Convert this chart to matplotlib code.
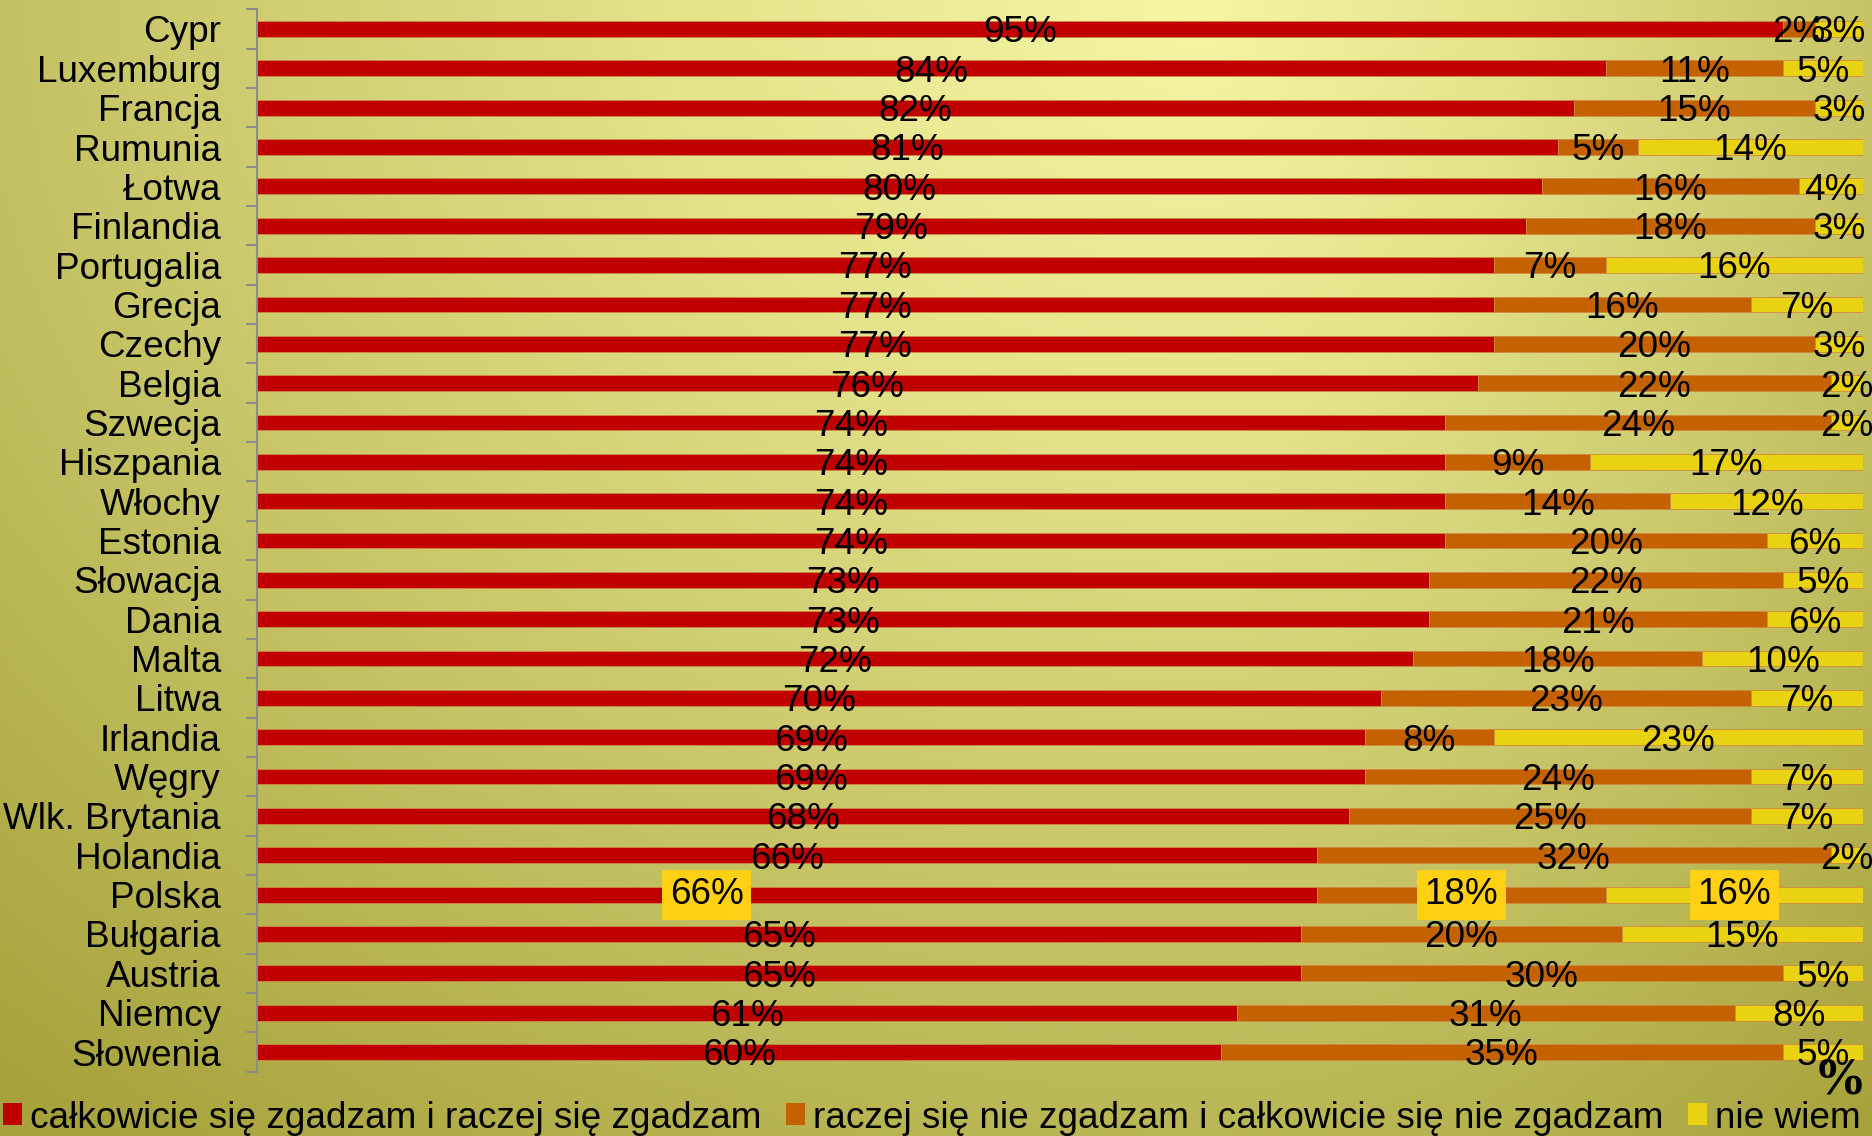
import numpy as np
import matplotlib
matplotlib.use("Agg")
import matplotlib.pyplot as plt
from matplotlib.patches import Patch

countries = ["Cypr", "Luxemburg", "Francja", "Rumunia", "Łotwa", "Finlandia", "Portugalia",
             "Grecja", "Czechy", "Belgia", "Szwecja", "Hiszpania", "Włochy", "Estonia",
             "Słowacja", "Dania", "Malta", "Litwa", "Irlandia", "Węgry", "Wlk. Brytania",
             "Holandia", "Polska", "Bułgaria", "Austria", "Niemcy", "Słowenia"]
agree = [95, 84, 82, 81, 80, 79, 77, 77, 77, 76, 74, 74, 74, 74, 73, 73, 72, 70, 69, 69, 68, 66, 66, 65, 65, 61, 60]
disagree = [2, 11, 15, 5, 16, 18, 7, 16, 20, 22, 24, 9, 14, 20, 22, 21, 18, 23, 8, 24, 25, 32, 18, 20, 30, 31, 35]
dont_know = [3, 5, 3, 14, 4, 3, 16, 7, 3, 2, 2, 17, 12, 6, 5, 6, 10, 7, 23, 7, 7, 2, 16, 15, 5, 8, 5]
legend_labels = ["całkowicie się zgadzam i raczej się zgadzam",
                 "raczej się nie zgadzam i całkowicie się nie zgadzam",
                 "nie wiem"]
highlight = "Polska"

colors = ["#c00000", "#c46200", "#e8d212"]
FS = 26.6
plt.rcParams['font.family'] = ['Liberation Sans', 'DejaVu Sans']

fig = plt.figure(figsize=(18.72, 11.36), dpi=100)

# background gradient
bg = fig.add_axes([0, 0, 1, 1], zorder=-10)
H, W = 300, 500
xx, yy = np.meshgrid(np.linspace(0, 1, W), np.linspace(0, 1, H))
cx = 0.64
dx = np.where(xx < cx, (xx - cx) / 0.64, (xx - cx) / 0.38)
dy = yy / 0.85
r = np.sqrt(dx ** 2 + dy ** 2)
stops = [0.0, 0.45, 1.0, 1.5]
cols = np.array([[0xf5, 0xf5, 0xa4], [0xe4, 0xe2, 0x8a], [0xc3, 0xc1, 0x62], [0xa7, 0xa2, 0x3b]]) / 255
img = np.dstack([np.interp(r, stops, cols[:, k]) for k in range(3)])
bg.imshow(img, aspect='auto', extent=[0, 1, 0, 1], origin='upper')
bg.axis('off')

ax = fig.add_axes([257 / 1872, 64.3 / 1136, (1863 - 257) / 1872, (1126.7 - 64.3) / 1136])
ax.patch.set_alpha(0)

y = np.arange(len(countries))
a = np.array(agree)
d = np.array(disagree)
k = np.array(dont_know)
h = 0.40
series = [(a, np.zeros_like(a)), (d, a), (k, a + d)]
for (vals, left), c in zip(series, colors):
    ax.barh(y, vals, left=left, height=h, color=c, edgecolor='#d08a40', linewidth=0.6)

for i, name in enumerate(countries):
    for j, ((vals, left), c) in enumerate(zip(series, colors)):
        v = vals[i]
        xc = left[i] + v / 2
        kw = {}
        yo = 0.1
        if name == highlight:
            kw['bbox'] = dict(boxstyle='square,pad=0.2', facecolor='#ffd014', edgecolor='none')
            yo = 0.0
            if j == 0:
                xc = 28
        ax.text(xc, i + yo, f"{v}%", ha='center', va='center', fontsize=FS, color='black', **kw)

ax.set_xlim(0, 100)
ax.set_ylim(len(countries) - 0.5, -0.5)
ax.set_yticks(y)
ax.set_yticklabels(countries, fontsize=FS)
ax.set_yticks(np.arange(len(countries) + 1) - 0.5, minor=True)
ax.tick_params(axis='y', which='major', length=0, pad=26)
ax.tick_params(axis='y', which='minor', length=8, width=1.5, color='#8c8c8c')
ax.set_xticks([])
for s in ['top', 'right', 'bottom']:
    ax.spines[s].set_visible(False)
ax.spines['left'].set_color('#8c8c8c')
ax.spines['left'].set_linewidth(1.5)

handles = [Patch(facecolor=c, edgecolor='none') for c in colors]
fig.legend(handles, legend_labels, loc='center left', bbox_to_anchor=(0.0016, 0.0158),
           ncol=3, frameon=False, fontsize=FS, handlelength=0.51, handleheight=0.54,
           handletextpad=0.22, columnspacing=0.67, borderpad=0, borderaxespad=0)

fig.text(0.983, 0.049, "%", fontsize=38, fontweight='bold', family='Liberation Serif',
         ha='center', va='center')

fig.savefig("out.png", dpi=100)
